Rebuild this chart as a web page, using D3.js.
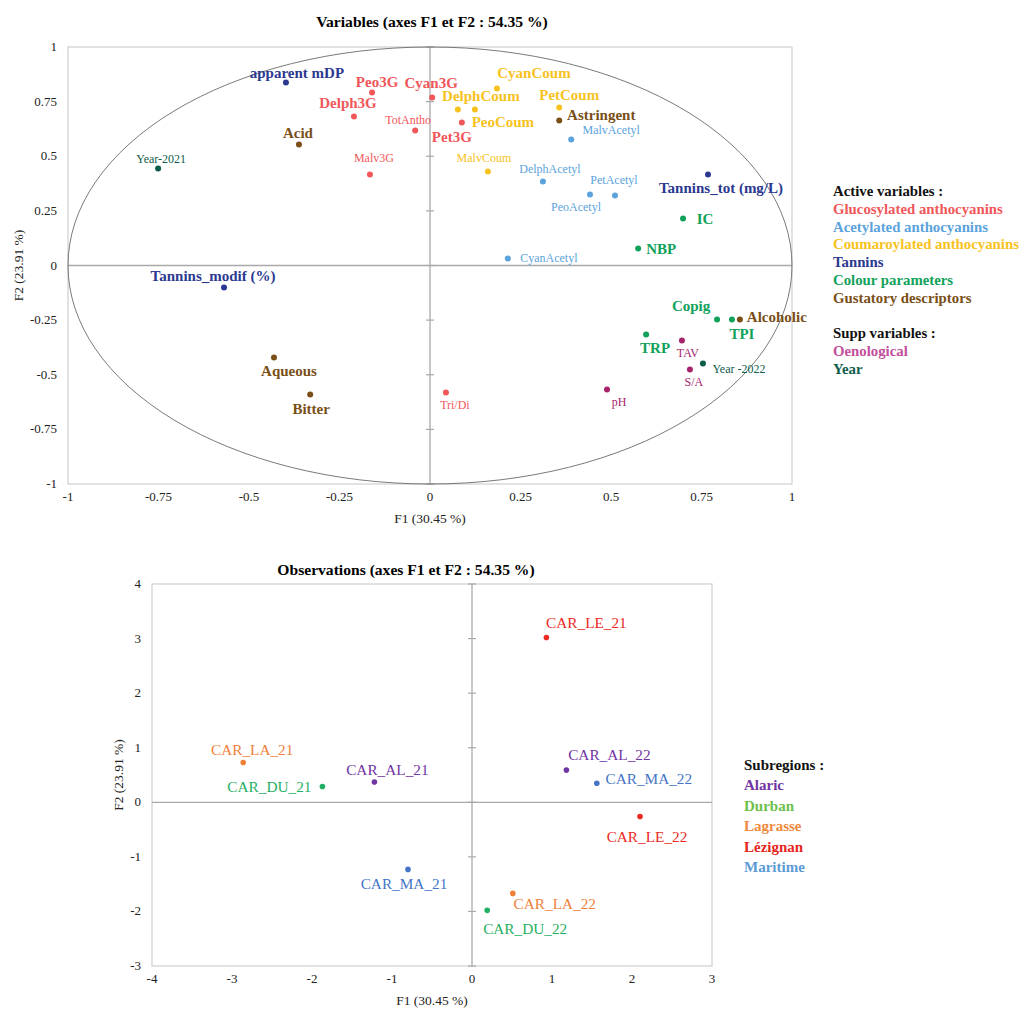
<!DOCTYPE html>
<html lang="en">
<head>
<meta charset="utf-8" />
<script src="https://d3js.org/d3.v7.min.js"></script>
<style>
  body { margin: 0; background: #fff; }
  svg { font-family: "Liberation Serif", "Times New Roman", serif; }
</style>
</head>
<body>
<svg id="chart" width="1020" height="1010"></svg>
<script>
// ---- data : variables (correlation circle) ----
var varNames = ["apparent mDP", "Peo3G", "Cyan3G", "Delph3G", "TotAntho", "Pet3G", "Malv3G", "Acid",
    "Year-2021", "Tannins_modif (%)", "Aqueous", "Bitter", "Tri/Di", "CyanCoum", "DelphCoum", "PeoCoum",
    "PetCoum", "MalvCoum", "Astringent", "MalvAcetyl", "DelphAcetyl", "PetAcetyl", "PeoAcetyl", "CyanAcetyl",
    "Tannins_tot (mg/L)", "IC", "NBP", "Copig", "TPI", "Alcoholic", "TRP", "TAV", "Year -2022", "S/A", "pH"];
var varF1 = [-0.398, -0.160, 0.006, -0.210, -0.041, 0.088, -0.166, -0.362,
    -0.751, -0.569, -0.431, -0.331, 0.044, 0.185, 0.077, 0.124,
    0.357, 0.160, 0.357, 0.390, 0.312, 0.511, 0.442, 0.215,
    0.768, 0.699, 0.575, 0.793, 0.834, 0.856, 0.597, 0.696, 0.754, 0.718, 0.489];
var varF2 = [0.838, 0.792, 0.769, 0.682, 0.618, 0.654, 0.416, 0.554,
    0.444, -0.101, -0.421, -0.590, -0.581, 0.810, 0.714, 0.714,
    0.723, 0.430, 0.664, 0.577, 0.384, 0.320, 0.325, 0.032,
    0.416, 0.215, 0.078, -0.247, -0.247, -0.247, -0.316, -0.343, -0.448, -0.476, -0.567];
var varGroup = ["tan", "glu", "glu", "glu", "glu", "glu", "glu", "gus",
    "year", "tan", "gus", "gus", "glu", "cou", "cou", "cou",
    "cou", "cou", "gus", "ace", "ace", "ace", "ace", "ace",
    "tan", "col", "col", "col", "col", "gus", "col", "oen", "year", "oen", "oen"];

var groupKeys = ["glu", "ace", "cou", "tan", "col", "gus", "oen", "year"];
var groupLabels = ["Glucosylated anthocyanins", "Acetylated anthocyanins", "Coumaroylated anthocyanins",
    "Tannins", "Colour parameters", "Gustatory descriptors", "Oenological", "Year"];

// ---- data : observations ----
var obsNames = ["CAR_LA_21", "CAR_DU_21", "CAR_AL_21", "CAR_LE_21", "CAR_AL_22",
    "CAR_MA_22", "CAR_LE_22", "CAR_MA_21", "CAR_LA_22", "CAR_DU_22"];
var obsF1 = [-2.86, -1.87, -1.22, 0.93, 1.18, 1.56, 2.10, -0.80, 0.51, 0.19];
var obsF2 = [0.73, 0.29, 0.37, 3.02, 0.59, 0.35, -0.26, -1.23, -1.67, -1.98];
var obsRegion = ["Lagrasse", "Durban", "Alaric", "Lézignan", "Alaric",
    "Maritime", "Lézignan", "Maritime", "Lagrasse", "Durban"];
var regions = ["Alaric", "Durban", "Lagrasse", "Lézignan", "Maritime"];

var ticksVar = [-1, -0.75, -0.5, -0.25, 0, 0.25, 0.5, 0.75, 1];
var ticksObsX = [-4, -3, -2, -1, 0, 1, 2, 3];
var ticksObsY = [-3, -2, -1, 0, 1, 2, 3, 4];

// ---- styles ----
var groupColor = d3.scaleOrdinal().domain(groupKeys)
    .range(["#f0575a", "#5ba3dc", "#f7c21e", "#2b3990", "#10a25a", "#7a4f17", "#a8236b", "#0d5c4b"]);
var legendColor = d3.scaleOrdinal().domain(groupKeys)
    .range(["#f0575a", "#5ba3dc", "#f7c21e", "#2b3990", "#10a25a", "#7a4f17", "#c2509c", "#0d5c4b"]);
var regionColor = d3.scaleOrdinal().domain(regions)
    .range(["#7035a3", "#1fb063", "#ef8038", "#ec2a24", "#4575c6"]);
var regionLegend = d3.scaleOrdinal().domain(regions)
    .range(["#7035a3", "#6cbf4a", "#ef8a3c", "#e52620", "#5b9bd5"]);

// labels in bold (big) on the circle
var boldVars = ["apparent mDP", "Peo3G", "Cyan3G", "Delph3G", "Pet3G", "Acid", "Tannins_modif (%)",
    "Aqueous", "Bitter", "CyanCoum", "DelphCoum", "PeoCoum", "PetCoum", "Astringent",
    "Tannins_tot (mg/L)", "IC", "NBP", "Copig", "TPI", "Alcoholic", "TRP"];

// label offsets from the dot (px)
var varLabelOff = {
    "apparent mDP": [11, -10], "Peo3G": [5, -11], "Cyan3G": [-1, -15], "Delph3G": [-6, -14],
    "TotAntho": [-7, -11], "Pet3G": [-10, 14], "Malv3G": [4, -17], "Acid": [-1, -12],
    "Year-2021": [3, -10], "Tannins_modif (%)": [-11, -12], "Aqueous": [15, 13], "Bitter": [1, 14],
    "Tri/Di": [9, 12], "CyanCoum": [37, -16], "DelphCoum": [23, -14], "PeoCoum": [28, 12],
    "PetCoum": [10, -13], "MalvCoum": [-4, -14], "Astringent": [42, -6], "MalvAcetyl": [40, -10],
    "DelphAcetyl": [7, -13], "PetAcetyl": [-1, -16], "PeoAcetyl": [-14, 12], "CyanAcetyl": [41, -1],
    "Tannins_tot (mg/L)": [13, 13], "IC": [22, 0], "NBP": [23, 0], "Copig": [-26, -14],
    "TPI": [10, 14], "Alcoholic": [37, -3], "TRP": [9, 13], "TAV": [6, 12],
    "Year -2022": [36, 5], "S/A": [4, 12], "pH": [12, 12]
};
var obsLabelOff = {
    "CAR_LA_21": [9, -13], "CAR_DU_21": [-53, 0], "CAR_AL_21": [13, -12], "CAR_LE_21": [40, -15],
    "CAR_AL_22": [43, -15], "CAR_MA_22": [52, -5], "CAR_LE_22": [7, 20], "CAR_MA_21": [-4, 14],
    "CAR_LA_22": [42, 10], "CAR_DU_22": [38, 18]
};

var svg = d3.select("#chart");

// draw frame, zero axes, tick labels and titles for one panel
function drawFrame(g, x, y, xt, yt, fmt, o) {
    var x0 = x.range()[0], x1 = x.range()[1], y0 = y.range()[0], y1 = y.range()[1];
    g.append("rect")
        .attr("x", x0).attr("y", y1).attr("width", x1 - x0).attr("height", y0 - y1)
        .attr("fill", "none").attr("stroke", "#cfcfcf").attr("stroke-width", 1.2);
    g.append("line").attr("x1", x0).attr("x2", x1).attr("y1", y(0)).attr("y2", y(0))
        .attr("stroke", "#a9a9a9").attr("stroke-width", 1.3);
    g.append("line").attr("x1", x(0)).attr("x2", x(0)).attr("y1", y1).attr("y2", y0)
        .attr("stroke", "#a9a9a9").attr("stroke-width", 1.3);
    g.selectAll(".ytick").data(yt).enter().append("line")
        .attr("x1", x(0) - 4).attr("x2", x(0) + 4)
        .attr("y1", d => y(d)).attr("y2", d => y(d))
        .attr("stroke", "#a9a9a9").attr("stroke-width", 1.2);
    g.selectAll(".xlab").data(xt).enter().append("text")
        .attr("x", d => x(d)).attr("y", y0 + 17)
        .attr("text-anchor", "middle").attr("font-size", 13).attr("fill", "#222")
        .text(fmt);
    g.selectAll(".ylab").data(yt).enter().append("text")
        .attr("x", x0 - 11).attr("y", d => y(d) + 4)
        .attr("text-anchor", "end").attr("font-size", 13).attr("fill", "#222")
        .text(fmt);
    g.append("text").attr("x", o.titleX).attr("y", o.titleY)
        .attr("text-anchor", "middle").attr("font-size", 15.6).attr("font-weight", "bold")
        .text(o.title);
    g.append("text").attr("x", (x0 + x1) / 2).attr("y", y0 + 39)
        .attr("text-anchor", "middle").attr("font-size", 13.5).attr("fill", "#222")
        .text("F1 (30.45 %)");
    g.append("text")
        .attr("transform", "translate(" + o.f2X + "," + ((y0 + y1) / 2) + ") rotate(-90)")
        .attr("text-anchor", "middle").attr("font-size", 13.5).attr("fill", "#222")
        .text("F2 (23.91 %)");
}

/* ---------- Variables (correlation circle) ---------- */
var xV = d3.scaleLinear().domain([-1, 1]).range([68, 792]);
var yV = d3.scaleLinear().domain([-1, 1]).range([484, 47]);
var gV = svg.append("g");
drawFrame(gV, xV, yV, ticksVar, ticksVar, d => String(d),
    {title: "Variables (axes F1 et F2 : 54.35 %)", titleX: 432, titleY: 27, f2X: 23});

gV.append("ellipse")
    .attr("cx", xV(0)).attr("cy", yV(0))
    .attr("rx", xV(1) - xV(0)).attr("ry", yV(0) - yV(1))
    .attr("fill", "none").attr("stroke", "#6b6b6b").attr("stroke-width", 0.9);

var vars = varNames.map((n, i) => ({name: n, f1: varF1[i], f2: varF2[i], group: varGroup[i]}));

gV.selectAll("circle.v").data(vars).enter().append("circle")
    .attr("class", "v")
    .attr("cx", d => xV(d.f1)).attr("cy", d => yV(d.f2)).attr("r", 3)
    .attr("fill", d => groupColor(d.group));

gV.selectAll("text.v").data(vars).enter().append("text")
    .attr("class", "v")
    .attr("x", d => xV(d.f1) + varLabelOff[d.name][0])
    .attr("y", d => yV(d.f2) + varLabelOff[d.name][1])
    .attr("dy", "0.35em")
    .attr("text-anchor", "middle")
    .attr("font-size", d => boldVars.indexOf(d.name) >= 0 ? 15 : 12)
    .attr("font-weight", d => boldVars.indexOf(d.name) >= 0 ? "bold" : "normal")
    .attr("fill", d => groupColor(d.group))
    .text(d => d.name);

// legend
var legTop = 191, legStep = 17.8;
var legRows = [{t: "Active variables :", c: "#111"}]
    .concat(groupKeys.slice(0, 6).map((k, i) => ({t: groupLabels[i], c: legendColor(k)})))
    .concat([{t: "", c: "#111"}, {t: "Supp variables :", c: "#111"}])
    .concat(groupKeys.slice(6).map((k, i) => ({t: groupLabels[6 + i], c: legendColor(k)})));
svg.append("g").selectAll("text").data(legRows).enter().append("text")
    .attr("x", 833).attr("y", (d, i) => legTop + i * legStep + 5)
    .attr("font-size", 14.8).attr("font-weight", "bold")
    .attr("fill", d => d.c)
    .text(d => d.t);

/* ---------- Observations ---------- */
var xO = d3.scaleLinear().domain([-4, 3]).range([152, 712]);
var yO = d3.scaleLinear().domain([-3, 4]).range([966, 584]);
var gO = svg.append("g");
drawFrame(gO, xO, yO, ticksObsX, ticksObsY, d => String(d),
    {title: "Observations (axes F1 et F2 : 54.35 %)", titleX: 406, titleY: 575, f2X: 123});

var obs = obsNames.map((n, i) => ({name: n, f1: obsF1[i], f2: obsF2[i], region: obsRegion[i]}));

gO.selectAll("circle.o").data(obs).enter().append("circle")
    .attr("class", "o")
    .attr("cx", d => xO(d.f1)).attr("cy", d => yO(d.f2)).attr("r", 2.8)
    .attr("fill", d => regionColor(d.region));

gO.selectAll("text.o").data(obs).enter().append("text")
    .attr("class", "o")
    .attr("x", d => xO(d.f1) + obsLabelOff[d.name][0])
    .attr("y", d => yO(d.f2) + obsLabelOff[d.name][1])
    .attr("dy", "0.35em")
    .attr("text-anchor", "middle").attr("font-size", 15.3)
    .attr("fill", d => regionColor(d.region))
    .text(d => d.name);

var legO = [{t: "Subregions :", c: "#111"}].concat(regions.map(r => ({t: r, c: regionLegend(r)})));
svg.append("g").selectAll("text").data(legO).enter().append("text")
    .attr("x", 744).attr("y", (d, i) => 765 + i * 20.4 + 5)
    .attr("font-size", 15).attr("font-weight", "bold")
    .attr("fill", d => d.c)
    .text(d => d.t);
</script>
</body>
</html>
